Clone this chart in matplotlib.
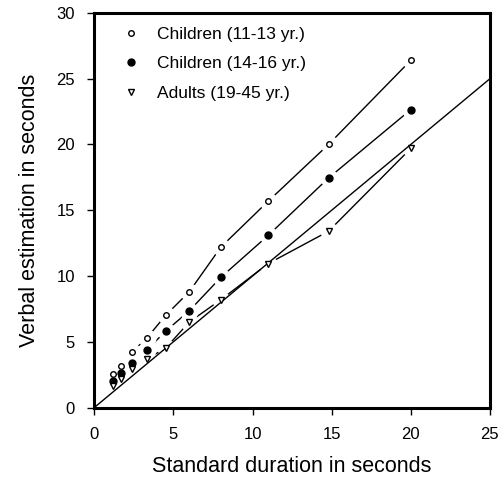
import matplotlib
matplotlib.use("Agg")
import matplotlib.pyplot as plt

plt.rcParams["font.family"] = ["Liberation Sans", "DejaVu Sans"]

# standard durations (s)
standard = [1.2, 1.7, 2.4, 3.3, 4.5, 6.0, 8.0, 11.0, 14.8, 20.0]

# verbal estimations (s)
children_11_13 = [2.55, 3.15, 4.25, 5.25, 7.0, 8.8, 12.2, 15.7, 20.0, 26.4]
children_14_16 = [2.0, 2.65, 3.35, 4.35, 5.8, 7.35, 9.9, 13.1, 17.45, 22.65]
adults_19_45 = [1.65, 2.2, 2.95, 3.7, 4.5, 6.5, 8.2, 10.95, 13.4, 19.7]

labels = ["Children (11-13 yr.)", "Children (14-16 yr.)", "Adults (19-45 yr.)"]
identity = [0, 25]

fig = plt.figure(figsize=(5.03, 4.8), dpi=100)
ax = fig.add_axes([0.1875, 0.151, 0.7865, 0.822])

series = [
    (children_11_13, dict(marker="o", ms=4.0, mfc="white", mec="black", mew=1.0)),
    (children_14_16, dict(marker="o", ms=5.0, mfc="black", mec="black", mew=1.0)),
    (adults_19_45, dict(marker="v", ms=5.0, mfc="white", mec="black", mew=1.0)),
]

# connecting lines, interrupted around each marker by a white halo
for ys, st in series:
    ax.plot(standard, ys, color="black", lw=1.0, zorder=1)
for ys, st in series:
    ax.plot(standard, ys, ls="none", marker="o", ms=13, mfc="white",
            mec="none", zorder=2)

# identity line
ax.plot(identity, identity, color="black", lw=1.0, zorder=3)

handles = []
for (ys, st), lab in zip(series, labels):
    h, = ax.plot(standard, ys, ls="none", zorder=4, label=lab, **st)
    handles.append(h)

ax.set_xlim(0, 25)
ax.set_ylim(0, 30)
ax.set_xticks([0, 5, 10, 15, 20, 25])
ax.set_yticks([0, 5, 10, 15, 20, 25, 30])
ax.tick_params(direction="out", length=5, width=1, labelsize=12, pad=9)
for s in ax.spines.values():
    s.set_linewidth(2.2)

ax.set_xlabel("Standard duration in seconds", fontsize=15.5, labelpad=10)
ax.set_ylabel("Verbal estimation in seconds", fontsize=15.5, labelpad=12)

ax.legend(handles=handles, loc="upper left", frameon=False, fontsize=12.5,
          handlelength=1.0, handletextpad=1.0, labelspacing=0.82,
          borderaxespad=0.4, bbox_to_anchor=(0.035, 1.0))

fig.savefig("out.png", dpi=100)
